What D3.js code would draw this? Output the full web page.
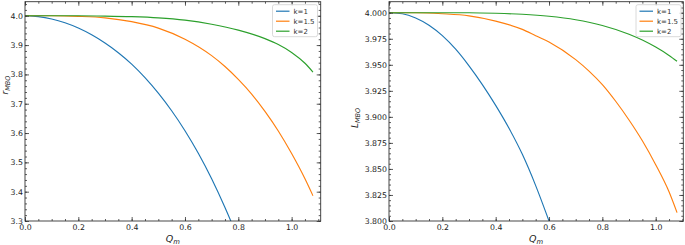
<!DOCTYPE html>
<html>
<head>
<meta charset="utf-8">
<script src="https://cdn.jsdelivr.net/npm/d3@7"></script>
<style>
  body { margin: 0; background: #fff; }
  svg { display: block; font-family: "DejaVu Sans", sans-serif; }
</style>
</head>
<body>
<svg id="chart" width="685" height="245"></svg>
<script>
// ---- data ----
const legendLabels = ['k=1', 'k=1.5', 'k=2'];
const colors = ['#1f77b4', '#ff7f0e', '#2ca02c'];

// left panel: r_MBO vs Q_m
const qRk1 = [0, 0.05, 0.1, 0.15, 0.2, 0.25, 0.3, 0.35, 0.4, 0.45, 0.5, 0.55, 0.6, 0.65, 0.7, 0.75, 0.777];
const rK1  = [4.000, 3.997, 3.989, 3.976, 3.958, 3.935, 3.907, 3.874, 3.835, 3.789, 3.736, 3.676, 3.608, 3.531, 3.444, 3.346, 3.289];
const qRk15 = [0, 0.1, 0.2, 0.3, 0.4, 0.5, 0.6, 0.7, 0.75, 0.8, 0.85, 0.9, 0.95, 1.0, 1.05, 1.08];
const rK15  = [4.000, 4.000, 3.998, 3.993, 3.980, 3.958, 3.920, 3.864, 3.827, 3.783, 3.733, 3.674, 3.607, 3.530, 3.444, 3.386];
const qRk2 = [0, 0.1, 0.2, 0.3, 0.4, 0.5, 0.6, 0.7, 0.8, 0.9, 0.95, 1.0, 1.05, 1.08];
const rK2  = [4.000, 4.000, 4.000, 3.999, 3.997, 3.993, 3.985, 3.971, 3.951, 3.922, 3.902, 3.875, 3.838, 3.808];

// right panel: L_MBO vs Q_m
const qLk1 = [0, 0.05, 0.1, 0.15, 0.2, 0.25, 0.3, 0.35, 0.4, 0.45, 0.5, 0.55, 0.6];
const lK1  = [4.000, 3.999, 3.995, 3.988, 3.978, 3.965, 3.949, 3.931, 3.911, 3.889, 3.864, 3.834, 3.800];
const qLk15 = [0, 0.1, 0.2, 0.3, 0.4, 0.5, 0.55, 0.6, 0.7, 0.75, 0.8, 0.85, 0.9, 0.95, 1.0, 1.05, 1.08];
const lK15  = [4.000, 4.000, 3.999, 3.997, 3.992, 3.984, 3.978, 3.972, 3.955, 3.944, 3.931, 3.915, 3.897, 3.877, 3.854, 3.828, 3.808];
const qLk2 = [0, 0.1, 0.2, 0.3, 0.4, 0.5, 0.6, 0.7, 0.8, 0.9, 0.95, 1.0, 1.05, 1.08];
const lK2  = [4.000, 4.000, 4.000, 4.000, 3.9995, 3.9985, 3.9966, 3.9933, 3.9878, 3.9794, 3.9738, 3.967, 3.959, 3.9534];

const xTicks = [0, 0.2, 0.4, 0.6, 0.8, 1.0];
const xMinor = d3.range(0, 1.101, 0.05);
const rTicks = [3.3, 3.4, 3.5, 3.6, 3.7, 3.8, 3.9, 4.0];
const rMinor = d3.range(3.3, 4.041, 0.02);
const lTicks = [3.800, 3.825, 3.850, 3.875, 3.900, 3.925, 3.950, 3.975, 4.000];
const lMinor = d3.range(3.8, 4.0101, 0.005);

const svg = d3.select('#chart');

function drawPanel(cfg) {
  const x = d3.scaleLinear().domain(cfg.xDomain).range([cfg.left, cfg.right]);
  const y = d3.scaleLinear().domain(cfg.yDomain).range([cfg.bottom, cfg.top]);
  const g = svg.append('g');

  // clip region
  const clipId = 'clip-' + cfg.id;
  g.append('clipPath').attr('id', clipId)
    .append('rect').attr('x', cfg.left).attr('y', cfg.top)
    .attr('width', cfg.right - cfg.left).attr('height', cfg.bottom - cfg.top);

  const line = d3.line().x(d => x(d[0])).y(d => y(d[1])).curve(d3.curveMonotoneX);
  cfg.series.forEach((s, i) => {
    g.append('path')
      .datum(d3.zip(s.q, s.v))
      .attr('clip-path', `url(#${clipId})`)
      .attr('fill', 'none')
      .attr('stroke', colors[i])
      .attr('stroke-width', 1.15)
      .attr('d', line);
  });

  // axes: inward ticks on all sides
  const addAxis = (gen, tr) => {
    const a = g.append('g').attr('transform', tr).call(gen);
    a.select('.domain').remove();
    a.selectAll('line').attr('stroke', '#333').attr('stroke-width', 0.8);
    a.selectAll('text').attr('fill', '#222').style('font-size', '7.8px')
      .style('font-family', '"DejaVu Sans", sans-serif');
    return a;
  };
  const bot = `translate(0,${cfg.bottom})`, top = `translate(0,${cfg.top})`;
  const lft = `translate(${cfg.left},0)`, rgt = `translate(${cfg.right},0)`;

  addAxis(d3.axisBottom(x).tickValues(xMinor).tickSize(-2).tickFormat(''), bot);
  addAxis(d3.axisTop(x).tickValues(xMinor).tickSize(-2).tickFormat(''), top);
  addAxis(d3.axisLeft(y).tickValues(cfg.yMinor).tickSize(-2).tickFormat(''), lft);
  addAxis(d3.axisRight(y).tickValues(cfg.yMinor).tickSize(-2).tickFormat(''), rgt);

  addAxis(d3.axisBottom(x).tickValues(xTicks).tickSize(-4).tickPadding(3).tickFormat(d3.format('.1f')), bot);
  addAxis(d3.axisTop(x).tickValues(xTicks).tickSize(-4).tickFormat(''), top);
  addAxis(d3.axisLeft(y).tickValues(cfg.yTicks).tickSize(-4).tickPadding(2).tickFormat(d3.format(cfg.yFmt)), lft);
  addAxis(d3.axisRight(y).tickValues(cfg.yTicks).tickSize(-4).tickFormat(''), rgt);

  g.append('rect')
    .attr('x', cfg.left).attr('y', cfg.top)
    .attr('width', cfg.right - cfg.left).attr('height', cfg.bottom - cfg.top)
    .attr('fill', 'none').attr('stroke', '#333').attr('stroke-width', 0.9);

  // x label
  const xl = g.append('text')
    .attr('x', (cfg.left + cfg.right) / 2).attr('y', 242)
    .attr('text-anchor', 'middle').attr('fill', '#222')
    .style('font-style', 'italic').style('font-size', '9.5px');
  xl.append('tspan').text('Q');
  xl.append('tspan').attr('dy', 2).style('font-size', '6.8px').text('m');

  // y label
  const yl = g.append('text')
    .attr('transform', `translate(${cfg.yLabelX},${cfg.yLabelY}) rotate(-90)`)
    .attr('text-anchor', 'middle').attr('fill', '#222')
    .style('font-style', 'italic').style('font-size', '9px');
  yl.append('tspan').text(cfg.yName);
  yl.append('tspan').attr('dy', 1.8).style('font-size', '6.5px').text('MBO');

  // legend
  const lg = g.append('g').attr('transform', `translate(${cfg.legX},${cfg.top + 3})`);
  lg.append('rect').attr('width', 45).attr('height', 32).attr('rx', 2)
    .attr('fill', '#fff').attr('fill-opacity', 0.8)
    .attr('stroke', '#d0d0d0').attr('stroke-width', 0.8);
  legendLabels.forEach((lab, i) => {
    const yy = 6.5 + i * 10;
    lg.append('line').attr('x1', 3.5).attr('x2', 17).attr('y1', yy).attr('y2', yy)
      .attr('stroke', colors[i]).attr('stroke-width', 1.2);
    lg.append('text').attr('x', 21).attr('y', yy + 2.5)
      .attr('fill', '#333').style('font-size', '7px').text(lab);
  });
}

drawPanel({
  id: 'r', left: 25, right: 320.7, top: 1.7, bottom: 221,
  xDomain: [0, 1.109], yDomain: [3.3, 4.048],
  yTicks: rTicks, yMinor: rMinor, yFmt: '.1f',
  yName: 'r', yLabelX: 8, yLabelY: 85, legX: 272.5,
  series: [{ q: qRk1, v: rK1 }, { q: qRk15, v: rK15 }, { q: qRk2, v: rK2 }]
});

drawPanel({
  id: 'l', left: 389, right: 683.3, top: 1.7, bottom: 221,
  xDomain: [0, 1.1035], yDomain: [3.8, 4.0106],
  yTicks: lTicks, yMinor: lMinor, yFmt: '.3f',
  yName: 'L', yLabelX: 358, yLabelY: 118, legX: 636,
  series: [{ q: qLk1, v: lK1 }, { q: qLk15, v: lK15 }, { q: qLk2, v: lK2 }]
});
</script>
</body>
</html>
